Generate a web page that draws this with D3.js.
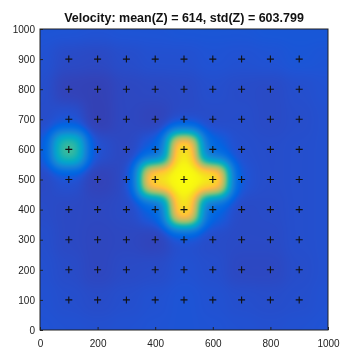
<!DOCTYPE html>
<html>
<head>
<meta charset="utf-8">
<script src="https://cdn.jsdelivr.net/npm/d3@7"></script>
<style>
  html, body { margin: 0; padding: 0; background: #fff; }
  #wrap { position: relative; width: 340px; height: 352px; }
  canvas, svg { position: absolute; left: 0; top: 0; }
  text { font-family: "Liberation Sans", Arial, sans-serif; }
</style>
</head>
<body>
<div id="wrap">
  <canvas id="heat" width="340" height="352"></canvas>
  <svg id="chart" width="340" height="352"></svg>
</div>
<script>
// Grid node coordinates (same along x and y), including the boundary nodes
const gridCoords = [0, 100, 200, 300, 400, 500, 600, 700, 800, 900, 1000];

// Velocity at each grid node; one row per y value, listed from y = 1000 down to y = 0
const rowY1000 = [540, 540, 530, 540, 540, 550, 550, 550, 560, 560, 560];
const rowY900  = [520, 470, 460, 490, 510, 510, 530, 520, 530, 550, 540];
const rowY800  = [500, 410, 400, 450, 460, 470, 500, 480, 470, 500, 520];
const rowY700  = [480, 520, 390, 450, 420, 470, 480, 490, 470, 490, 510];
const rowY600  = [540, 2150, 500, 450, 580, 3650, 640, 500, 490, 500, 510];
const rowY500  = [460, 510, 410, 450, 3550, 3750, 3650, 520, 490, 500, 510];
const rowY400  = [480, 460, 450, 470, 600, 3600, 620, 470, 480, 500, 510];
const rowY300  = [500, 460, 440, 450, 420, 500, 480, 470, 470, 500, 510];
const rowY200  = [510, 480, 440, 470, 480, 520, 500, 450, 450, 490, 510];
const rowY100  = [520, 500, 480, 500, 520, 540, 520, 500, 490, 500, 520];
const rowY0    = [530, 520, 510, 520, 530, 540, 530, 520, 510, 520, 530];
const velocityRows = [rowY1000, rowY900, rowY800, rowY700, rowY600, rowY500,
                      rowY400, rowY300, rowY200, rowY100, rowY0];

// Receiver positions marked with "+"
const markerCoords = [100, 200, 300, 400, 500, 600, 700, 800, 900];

// Axis ticks
const xTicks = [0, 200, 400, 600, 800, 1000];
const yTicks = [0, 100, 200, 300, 400, 500, 600, 700, 800, 900, 1000];

// Colour limits for the velocity image
const colorLimits = [200, 3700];

const titleText = "Velocity: mean(Z) = 614, std(Z) = 603.799";

// Parula colormap stops
const parula = [
  [0.2081,0.1663,0.5292],[0.2123,0.2138,0.6270],[0.1959,0.2645,0.7279],[0.1253,0.3242,0.8303],
  [0.0117,0.3875,0.8820],[0.0165,0.4266,0.8786],[0.0498,0.4586,0.8641],[0.0723,0.4887,0.8467],
  [0.0793,0.5200,0.8312],[0.0641,0.5570,0.8240],[0.0343,0.5966,0.8199],[0.0239,0.6287,0.8038],
  [0.0228,0.6535,0.7768],[0.0384,0.6743,0.7436],[0.0843,0.6928,0.7062],[0.1453,0.7098,0.6646],
  [0.2178,0.7250,0.6193],[0.3022,0.7376,0.5712],[0.3953,0.7459,0.5244],[0.4871,0.7491,0.4840],
  [0.5709,0.7485,0.4494],[0.6473,0.7456,0.4188],[0.7184,0.7411,0.3905],[0.7858,0.7356,0.3633],
  [0.8507,0.7299,0.3360],[0.9139,0.7258,0.3063],[0.9739,0.7314,0.2666],[0.9990,0.7653,0.2164],
  [0.9880,0.8066,0.1794],[0.9697,0.8481,0.1475],[0.9589,0.8949,0.1132],[0.9661,0.9514,0.0755],
  [0.9763,0.9831,0.0538]
].map(c => d3.rgb(c[0] * 255, c[1] * 255, c[2] * 255));

const margin = { left: 40, right: 12, top: 29, bottom: 22 };
const W = 340, H = 352;

const x = d3.scaleLinear().domain([0, 1000]).range([margin.left, W - margin.right]);
const y = d3.scaleLinear().domain([0, 1000]).range([H - margin.bottom, margin.top]);
const color = d3.scaleSequential(d3.piecewise(d3.interpolateRgb, parula)).domain(colorLimits).clamp(true);

// Node list built from the row arrays
const nodes = [];
velocityRows.forEach((row, i) => {
  const yy = gridCoords[gridCoords.length - 1 - i];
  row.forEach((v, j) => nodes.push({ x: gridCoords[j], y: yy, v }));
});

// Smooth field: Gaussian-weighted average of the node velocities
const sigma = 38;
const twoS2 = 2 * sigma * sigma;
function field(px, py) {
  let sw = 0, sv = 0;
  for (const n of nodes) {
    const dx = px - n.x, dy = py - n.y;
    const d2 = dx * dx + dy * dy;
    if (d2 > 90000) continue;
    const w = Math.exp(-d2 / twoS2);
    sw += w; sv += w * n.v;
  }
  return sv / sw;
}

// Paint the image pixel by pixel through the axis scales
const canvas = document.getElementById("heat");
const ctx = canvas.getContext("2d");
const x0 = Math.round(x(0)), x1 = Math.round(x(1000));
const y0 = Math.round(y(1000)), y1 = Math.round(y(0));
const img = ctx.createImageData(x1 - x0, y1 - y0);
for (let py = y0; py < y1; py++) {
  const vy = y.invert(py + 0.5);
  for (let px = x0; px < x1; px++) {
    const vx = x.invert(px + 0.5);
    const c = d3.rgb(color(field(vx, vy)));
    const k = ((py - y0) * (x1 - x0) + (px - x0)) * 4;
    img.data[k] = c.r; img.data[k + 1] = c.g; img.data[k + 2] = c.b; img.data[k + 3] = 255;
  }
}
ctx.putImageData(img, x0, y0);

const svg = d3.select("#chart");

// Receiver markers
const pts = [];
markerCoords.forEach(yy => markerCoords.forEach(xx => pts.push([xx, yy])));
svg.append("g").selectAll("path").data(pts).join("path")
  .attr("d", d => {
    const cx = x(d[0]), cy = y(d[1]), r = 3.5;
    return `M${cx - r},${cy}H${cx + r}M${cx},${cy - r}V${cy + r}`;
  })
  .attr("stroke", "#111").attr("stroke-width", 1.1).attr("fill", "none");

// Axes with inward ticks
const axisColor = "#222";
const xAxis = svg.append("g").attr("transform", `translate(0,${y(0)})`)
  .call(d3.axisBottom(x).tickValues(xTicks).tickSize(-3).tickPadding(10).tickFormat(d3.format("d")));
const yAxis = svg.append("g").attr("transform", `translate(${x(0)},0)`)
  .call(d3.axisLeft(y).tickValues(yTicks).tickSize(-3).tickPadding(5).tickFormat(d3.format("d")));
[xAxis, yAxis].forEach(g => {
  g.select(".domain").remove();
  g.selectAll(".tick line").attr("stroke", axisColor);
  g.selectAll(".tick text").attr("fill", axisColor)
    .style("font-family", '"Liberation Sans", Arial, sans-serif').style("font-size", "10px");
});

// Box around the image
svg.append("rect")
  .attr("x", x(0)).attr("y", y(1000))
  .attr("width", x(1000) - x(0)).attr("height", y(0) - y(1000))
  .attr("fill", "none").attr("stroke", axisColor).attr("stroke-width", 1);

// Title
svg.append("text")
  .attr("x", (x(0) + x(1000)) / 2).attr("y", 22)
  .attr("text-anchor", "middle")
  .style("font-size", "12.5px").style("font-weight", "bold").attr("fill", "#111")
  .text(titleText);
</script>
</body>
</html>
